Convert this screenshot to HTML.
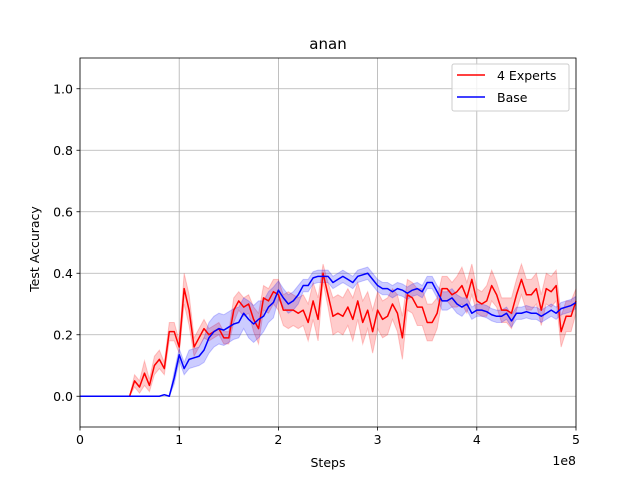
<!DOCTYPE html>
<html><head><meta charset="utf-8"><style>
body{margin:0;background:#fff}
svg{font-family:"DejaVu Sans","Liberation Sans",sans-serif}
</style></head><body>
<svg id="chart" width="640" height="480" xmlns="http://www.w3.org/2000/svg"></svg>
<script>
const xStep = 0.05; // units of 1e8 steps
const redVals = [0,0,0,0,0,0,0,0,0,0,0,0.05,0.03,0.075,0.035,0.1,0.12,0.09,0.21,0.21,0.16,0.35,0.28,0.16,0.19,0.22,0.2,0.21,0.22,0.19,0.19,0.28,0.31,0.29,0.3,0.25,0.22,0.32,0.31,0.34,0.33,0.28,0.28,0.28,0.27,0.28,0.24,0.31,0.25,0.4,0.33,0.26,0.27,0.26,0.29,0.25,0.31,0.24,0.28,0.21,0.28,0.25,0.26,0.3,0.27,0.19,0.33,0.32,0.29,0.29,0.24,0.24,0.27,0.35,0.35,0.33,0.34,0.36,0.32,0.38,0.31,0.3,0.31,0.36,0.33,0.28,0.28,0.27,0.33,0.38,0.33,0.33,0.35,0.28,0.35,0.34,0.36,0.21,0.26,0.26,0.31];
const redErr = [0,0,0,0,0,0,0,0,0,0,0,0.02,0.02,0.04,0.02,0.03,0.03,0.02,0.03,0.03,0.02,0.05,0.05,0.03,0.03,0.03,0.02,0.02,0.02,0.02,0.02,0.04,0.03,0.03,0.03,0.04,0.05,0.04,0.04,0.04,0.05,0.05,0.06,0.05,0.05,0.05,0.06,0.06,0.07,0.03,0.04,0.06,0.06,0.06,0.06,0.07,0.06,0.07,0.06,0.07,0.06,0.06,0.06,0.05,0.06,0.07,0.05,0.05,0.06,0.06,0.06,0.06,0.05,0.04,0.04,0.04,0.05,0.06,0.05,0.05,0.04,0.04,0.05,0.05,0.04,0.04,0.04,0.05,0.05,0.05,0.05,0.05,0.05,0.05,0.05,0.05,0.05,0.05,0.05,0.05,0.04];
const blueVals = [0,0,0,0,0,0,0,0,0,0,0,0,0,0,0,0,0,0.005,0,0.06,0.135,0.09,0.12,0.125,0.13,0.15,0.19,0.21,0.22,0.215,0.225,0.235,0.24,0.27,0.25,0.235,0.25,0.26,0.29,0.305,0.345,0.32,0.3,0.31,0.33,0.36,0.36,0.385,0.39,0.39,0.39,0.37,0.38,0.39,0.38,0.37,0.39,0.395,0.4,0.38,0.36,0.35,0.35,0.34,0.35,0.345,0.335,0.345,0.35,0.34,0.37,0.37,0.34,0.31,0.31,0.32,0.3,0.29,0.3,0.27,0.28,0.28,0.275,0.265,0.26,0.26,0.27,0.245,0.27,0.27,0.275,0.27,0.27,0.26,0.27,0.28,0.27,0.285,0.29,0.295,0.305];
const blueErr = [0,0,0,0,0,0,0,0,0,0,0,0,0,0,0,0,0,0,0,0.02,0.02,0.02,0.03,0.03,0.03,0.04,0.05,0.05,0.05,0.05,0.05,0.05,0.05,0.05,0.06,0.06,0.06,0.05,0.05,0.05,0.03,0.03,0.03,0.03,0.03,0.02,0.02,0.02,0.02,0.02,0.02,0.02,0.02,0.02,0.02,0.02,0.02,0.02,0.02,0.02,0.02,0.02,0.02,0.02,0.02,0.02,0.02,0.02,0.02,0.02,0.02,0.02,0.02,0.03,0.03,0.03,0.03,0.03,0.02,0.02,0.02,0.02,0.02,0.02,0.02,0.02,0.02,0.02,0.02,0.02,0.02,0.02,0.02,0.02,0.02,0.02,0.02,0.02,0.02,0.02,0.02];
const xTicks = [0,1,2,3,4,5];
const yTicks = [0.0,0.2,0.4,0.6,0.8,1.0];

const L=80,R=576,T=58,B=427, XMIN=0,XMAX=5,YMIN=-0.1,YMAX=1.1;
const sx=v=>L+(v-XMIN)/(XMAX-XMIN)*(R-L);
const sy=v=>B-(v-YMIN)/(YMAX-YMIN)*(B-T);
const svg=document.getElementById('chart');
const NS='http://www.w3.org/2000/svg';
function mk(tag,attrs,parent){const e=document.createElementNS(NS,tag);for(const k in attrs)e.setAttribute(k,attrs[k]);(parent||svg).appendChild(e);return e;}

xTicks.forEach(t=>{const g=mk('line',{x1:sx(t),x2:sx(t),y1:T,y2:B,stroke:'#b0b0b0','stroke-width':0.8});

});
yTicks.forEach(t=>{const g=mk('line',{x1:L,x2:R,y1:sy(t),y2:sy(t),stroke:'#b0b0b0','stroke-width':0.8});

});

function band(vals,err,color,name){
  let up=vals.map((v,i)=>sx(i*xStep)+','+sy(v+err[i]));
  let dn=vals.map((v,i)=>sx(i*xStep)+','+sy(v-err[i])).reverse();
  const p=mk('polygon',{points:up.concat(dn).join(' '),fill:color,'fill-opacity':0.2,stroke:color,'stroke-opacity':0.2});
  
  
}
function line(vals,color,name){
  const p=mk('polyline',{points:vals.map((v,i)=>sx(i*xStep)+','+sy(v)).join(' '),fill:'none',stroke:color,'stroke-width':1.5,'stroke-linejoin':'round'});
  
  
}
band(redVals,redErr,'#ff0000','experts-band');
band(blueVals,blueErr,'#0000ff','base-band');
line(redVals,'#ff0000','experts-line');
line(blueVals,'#0000ff','base-line');

const fr=mk('rect',{x:L,y:T,width:R-L,height:B-T,fill:'none',stroke:'#000','stroke-width':0.8});



xTicks.forEach(t=>{mk('line',{x1:sx(t),x2:sx(t),y1:B,y2:B+3.5,stroke:'#000','stroke-width':0.8});
const tx=mk('text',{x:sx(t),y:B+17,'text-anchor':'middle','font-size':12.5});tx.textContent=t;

});
yTicks.forEach(t=>{mk('line',{x1:L,x2:L-3.5,y1:sy(t),y2:sy(t),stroke:'#000','stroke-width':0.8});
const tx=mk('text',{x:L-7,y:sy(t)+4.5,'text-anchor':'end','font-size':12.5});tx.textContent=t.toFixed(1);

});
</script>
<svg style="position:absolute;left:0;top:0" width="640" height="480" xmlns="http://www.w3.org/2000/svg" font-family="DejaVu Sans, Liberation Sans, sans-serif">
<text x="328" y="49" text-anchor="middle" font-size="15">anan</text>
<text x="328" y="467" text-anchor="middle" font-size="12.5">Steps</text>
<text x="576" y="465" text-anchor="end" font-size="12.5">1e8</text>
<text x="39" y="249" text-anchor="middle" font-size="12.5" transform="rotate(-90 39 249)">Test Accuracy</text>
<g>
<rect x="452" y="64" width="117" height="47" rx="2" fill="#fff" fill-opacity="0.8" stroke="#ccc"/>
<line x1="457" x2="485" y1="75" y2="75" stroke="#f00" stroke-width="1.5"/>
<text x="497" y="80" font-size="12.5">4 Experts</text>
<line x1="457" x2="485" y1="97" y2="97" stroke="#00f" stroke-width="1.5"/>
<text x="497" y="102" font-size="12.5">Base</text>
</g>
</svg>
</body></html>
